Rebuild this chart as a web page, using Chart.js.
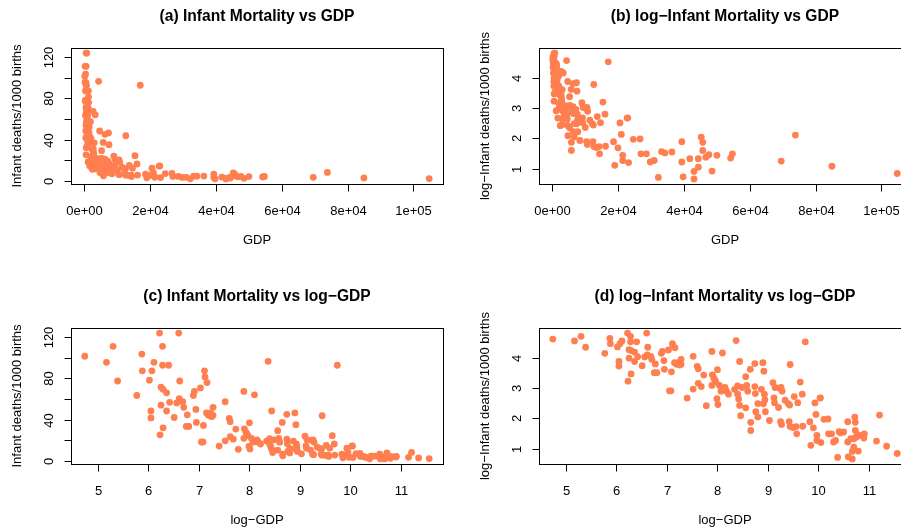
<!doctype html>
<html>
<head>
<meta charset="utf-8">
<title>Infant Mortality vs GDP</title>
<script src="https://cdn.jsdelivr.net/npm/chart.js@4/dist/chart.umd.min.js"></script>
<style>
  body { margin: 0; background: #fff; width: 901px; height: 529px; overflow: hidden; position: relative; }
  canvas { position: absolute; }
</style>
</head>
<body>
<canvas id="pa" width="450" height="264" style="left:0;top:0"></canvas>
<canvas id="pb" width="470" height="264" style="left:450px;top:0"></canvas>
<canvas id="pc" width="450" height="264" style="left:0;top:280px"></canvas>
<canvas id="pd" width="470" height="264" style="left:450px;top:280px"></canvas>
<script>
// values: log-GDP and log-infant mortality per country
const logGdp = [4.74, 5.17, 5.30, 5.39, 5.77, 5.87, 5.88, 6.02, 6.07, 6.11,
  6.05, 6.05, 6.22, 6.23, 6.25, 6.25, 6.28, 6.28, 6.29, 6.29,
  6.36, 6.36, 6.40, 6.42, 6.51, 6.56, 6.60, 6.62, 6.61, 6.68,
  6.70, 6.77, 6.75, 6.80, 6.89, 6.91, 6.94, 6.95, 7.03, 7.05,
  7.08, 7.09, 7.11, 7.12, 7.16, 7.15, 7.19, 7.23, 7.28, 7.28,
  7.25, 7.40, 7.52, 7.52, 7.60, 7.62, 7.62, 7.68, 7.73, 7.78,
  7.89, 7.90, 7.89, 7.93, 7.95, 7.97, 8.00, 7.99, 8.01, 8.04,
  8.07, 8.10, 8.12, 8.15, 8.18, 8.22, 8.34, 8.37, 8.40, 8.40,
  8.42, 8.44, 8.44, 8.46, 8.49, 8.56, 8.56, 8.58, 8.60, 8.65,
  8.66, 8.66, 8.74, 8.74, 8.75, 8.76, 8.80, 8.80, 8.87, 8.90,
  8.92, 8.91, 8.93, 8.94, 8.95, 9.03, 9.10, 9.12, 9.13, 9.14,
  9.21, 9.23, 9.25, 9.26, 9.27, 9.28, 9.34, 9.40, 9.42, 9.43,
  9.44, 9.44, 9.50, 9.52, 9.56, 9.57, 9.59, 9.64, 9.68, 9.69,
  9.74, 9.83, 9.85, 9.90, 9.93, 9.95, 9.97, 9.97, 10.03, 10.04,
  10.05, 10.11, 10.19, 10.20, 10.26, 10.30, 10.34, 10.38, 10.41, 10.44,
  10.50, 10.58, 10.58, 10.59, 10.64, 10.67, 10.67, 10.70, 10.70, 10.72,
  10.73, 10.73, 10.75, 10.77, 10.79, 10.82, 10.91, 10.90, 11.15, 11.21,
  11.35, 11.56];
const logMort = [4.62, 4.56, 4.71, 4.35, 4.15, 4.64, 4.47, 4.36, 4.47, 4.56,
  3.88, 3.73, 4.82, 3.23, 4.27, 3.99, 4.71, 4.53, 4.24, 3.47,
  4.19, 3.88, 4.53, 4.04, 3.74, 4.03, 4.82, 4.35, 4.10, 4.05,
  3.95, 3.80, 3.51, 3.51, 4.15, 4.21, 3.91, 3.62, 4.26, 2.91,
  2.91, 3.54, 4.47, 4.40, 4.33, 3.84, 3.79, 3.84, 3.95, 3.79,
  3.76, 2.67, 4.05, 2.97, 3.72, 3.64, 3.16, 3.05, 3.43, 2.42,
  4.21, 3.44, 3.09, 3.33, 3.27, 3.20, 3.61, 2.65, 2.46, 3.09,
  2.90, 4.16, 2.96, 3.02, 2.90, 2.80, 2.96, 4.57, 3.07, 2.80,
  2.64, 3.88, 2.43, 2.09, 3.02, 3.38, 2.35, 3.09, 2.90, 3.62,
  1.87, 1.60, 3.81, 3.05, 2.82, 2.22, 2.49, 2.05, 2.96, 3.84,
  3.56, 2.48, 2.80, 2.61, 2.22, 1.93, 3.18, 2.68, 2.52, 3.02,
  2.36, 3.00, 1.89, 3.02, 1.80, 2.90, 2.60, 2.49, 1.89, 2.44,
  3.78, 1.73, 1.70, 2.72, 1.73, 1.49, 2.52, 3.20, 2.80, 1.74,
  4.53, 1.89, 1.11, 1.69, 2.51, 2.13, 1.44, 1.27, 2.67, 2.68,
  1.20, 1.97, 1.98, 1.49, 1.49, 1.22, 1.27, 0.71, 1.56, 1.52,
  1.55, 1.89, 1.22, 0.73, 1.33, 0.91, 0.66, 1.05, 1.33, 2.04,
  1.87, 1.60, 1.38, 1.46, 0.92, 1.44, 1.49, 1.35, 1.25, 2.11,
  1.08, 0.84];
const gdp = logGdp.map(Math.exp);
const mort = logMort.map(Math.exp);

const gdpTicks = [0, 20000, 40000, 60000, 80000, 100000];
const gdpTickLabels = ['0e+00', '2e+04', '4e+04', '6e+04', '8e+04', '1e+05'];
const logGdpTicks = [5, 6, 7, 8, 9, 10, 11];
const logGdpTickLabels = ['5', '6', '7', '8', '9', '10', '11'];
const mortTicks = [0, 20, 40, 60, 80, 100, 120];
const mortTickLabels = ['0', '', '40', '', '80', '', '120'];
const logMortTicks = [1, 2, 3, 4];
const logMortTickLabels = ['1', '2', '3', '4'];

const COL = '#FF7F50';
const FONT = '"Liberation Sans", Arial, Helvetica, sans-serif';

// R style axis range: data range widened by 4% each side
function rRange(v) {
  const lo = Math.min(...v), hi = Math.max(...v), d = (hi - lo) * 0.04;
  return [lo - d, hi + d];
}

// draws the R base-graphics frame: box, ticks, labels, titles
const rFrame = {
  id: 'rFrame',
  afterDraw(chart, args, o) {
    const { ctx, chartArea: a } = chart;
    const x = chart.scales.x, y = chart.scales.y;
    ctx.save();
    ctx.strokeStyle = '#000';
    ctx.fillStyle = '#000';
    ctx.lineWidth = 1;
    const L = Math.round(a.left) + 0.5, T = Math.round(a.top) + 0.5;
    const R = Math.round(a.right) + 0.5, B = Math.round(a.bottom) + 0.5;
    ctx.strokeRect(L, T, R - L, B - T);

    ctx.font = '13px ' + FONT;
    ctx.textAlign = 'center';
    ctx.textBaseline = 'middle';
    ctx.beginPath();
    o.xt.forEach((v, i) => {
      const px = Math.round(x.getPixelForValue(v)) + 0.5;
      ctx.moveTo(px, B); ctx.lineTo(px, B + 7);
      ctx.fillText(o.xl[i], px, B + 27);
    });
    o.yt.forEach((v, i) => {
      const py = Math.round(y.getPixelForValue(v)) + 0.5;
      ctx.moveTo(L, py); ctx.lineTo(L - 7, py);
      if (o.yl[i]) {
        ctx.save();
        ctx.translate(L - 22, py);
        ctx.rotate(-Math.PI / 2);
        ctx.fillText(o.yl[i], 0, 0);
        ctx.restore();
      }
    });
    ctx.stroke();

    const cx = (a.left + a.right) / 2, cy = (a.top + a.bottom) / 2;
    ctx.fillText(o.xlab, cx, B + 56);
    ctx.save();
    ctx.translate(L - 54, cy);
    ctx.rotate(-Math.PI / 2);
    ctx.fillText(o.ylab, 0, 0);
    ctx.restore();

    ctx.font = 'bold 15.6px ' + FONT;
    ctx.fillText(o.title, cx, T - 32);
    ctx.restore();
  }
};

function makePanel(id, xs, ys, opts, rightPad) {
  const xr = rRange(xs), yr = rRange(ys);
  new Chart(document.getElementById(id), {
    type: 'scatter',
    data: {
      datasets: [{
        data: xs.map((v, i) => ({ x: v, y: ys[i] })),
        pointRadius: 3.4,
        pointHoverRadius: 3.4,
        pointBackgroundColor: COL,
        pointBorderWidth: 0,
        clip: false
      }]
    },
    options: {
      responsive: false,
      animation: false,
      events: [],
      layout: { padding: { left: opts.left, top: 48, right: rightPad, bottom: 80 } },
      scales: {
        x: { type: 'linear', display: false, min: xr[0], max: xr[1] },
        y: { type: 'linear', display: false, min: yr[0], max: yr[1] }
      },
      plugins: {
        legend: { display: false },
        tooltip: { enabled: false },
        rFrame: opts
      }
    },
    plugins: [rFrame]
  });
}

makePanel('pa', gdp, mort, {
  left: 71, title: '(a) Infant Mortality vs GDP',
  xt: gdpTicks, xl: gdpTickLabels, yt: mortTicks, yl: mortTickLabels,
  xlab: 'GDP', ylab: 'Infant deaths/1000 births'
}, 7);
makePanel('pb', gdp, logMort, {
  left: 89, title: '(b) log\u2212Infant Mortality vs GDP',
  xt: gdpTicks, xl: gdpTickLabels, yt: logMortTicks, yl: logMortTickLabels,
  xlab: 'GDP', ylab: 'log\u2212Infant deaths/1000 births'
}, 9);
makePanel('pc', logGdp, mort, {
  left: 71, title: '(c) Infant Mortality vs log\u2212GDP',
  xt: logGdpTicks, xl: logGdpTickLabels, yt: mortTicks, yl: mortTickLabels,
  xlab: 'log\u2212GDP', ylab: 'Infant deaths/1000 births'
}, 7);
makePanel('pd', logGdp, logMort, {
  left: 89, title: '(d) log\u2212Infant Mortality vs log\u2212GDP',
  xt: logGdpTicks, xl: logGdpTickLabels, yt: logMortTicks, yl: logMortTickLabels,
  xlab: 'log\u2212GDP', ylab: 'log\u2212Infant deaths/1000 births'
}, 9);
</script>
</body>
</html>
